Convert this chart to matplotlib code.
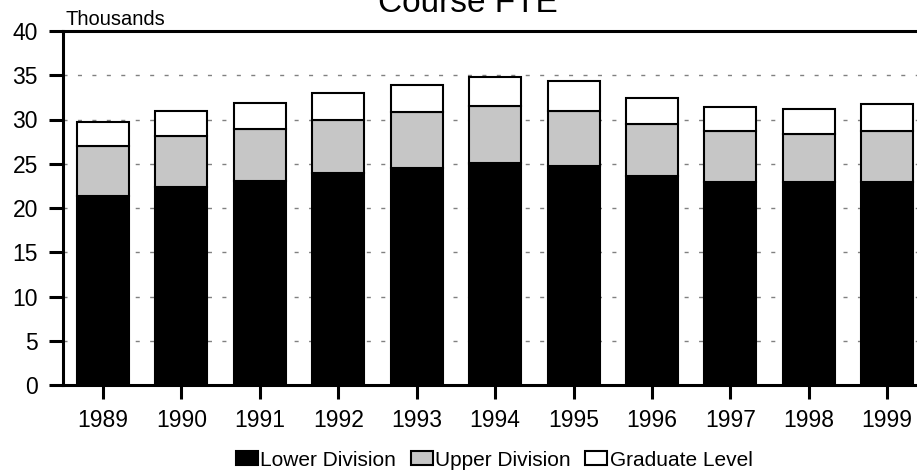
import numpy as np
import matplotlib.pyplot as plt

plt.rcParams['font.family'] = ['Liberation Sans', 'DejaVu Sans']

years = ['1989', '1990', '1991', '1992', '1993', '1994', '1995', '1996', '1997', '1998', '1999']
lower = [21.4, 22.4, 23.0, 23.9, 24.5, 25.1, 24.7, 23.6, 22.9, 22.9, 22.9]
upper = [5.6, 5.7, 5.9, 6.1, 6.3, 6.4, 6.3, 5.9, 5.8, 5.5, 5.8]
graduate = [2.75, 2.9, 3.0, 3.0, 3.1, 3.35, 3.3, 2.9, 2.75, 2.8, 3.0]
series_names = ['Lower Division', 'Upper Division', 'Graduate Level']
colors = ['#000000', '#c6c6c6', '#ffffff']
yticks = [0, 5, 10, 15, 20, 25, 30, 35, 40]

W, H = 917, 475
fig = plt.figure(figsize=(W / 100, H / 100), dpi=100)
ax = fig.add_axes([63 / W, (H - 385) / H, (W - 63) / W, 354 / H])

x = np.arange(len(years))
bottom = np.zeros(len(years))
for vals, name, c in zip([lower, upper, graduate], series_names, colors):
    ax.bar(x, vals, width=0.663, bottom=bottom, color=c, edgecolor='black',
           linewidth=1.5, label=name, zorder=3)
    bottom += np.array(vals)

# dashed grid lines behind the bars
for yv in yticks[1:-1]:
    ax.axhline(yv, color='#808080', linewidth=1.0, linestyle=(0, (2.9, 7.5)), zorder=1)

ax.set_xlim(-0.51, 10.38)
ax.set_ylim(0, 40)
ax.set_yticks(yticks)
ax.set_xticks(x)
ax.set_xticklabels(years)

for s in ['left', 'top', 'bottom']:
    ax.spines[s].set_linewidth(2.2)
ax.spines['right'].set_visible(False)

ax.tick_params(axis='both', direction='out', length=10, width=2.2, labelsize=16.5)
ax.tick_params(axis='y', pad=8)
ax.tick_params(axis='x', pad=7)

fig.text(66 / W, 1 - 25 / H, 'Thousands', fontsize=14.5, ha='left', va='baseline')
fig.text(468 / W, 1 - 12 / H, 'Course FTE', fontsize=24, ha='center', va='baseline')

fig.legend(loc='center', bbox_to_anchor=(494 / W, 1 - 460 / H), ncol=3, frameon=False,
           fontsize=15, handlelength=1.06, handleheight=0.62, handletextpad=0.1,
           columnspacing=0.72, borderpad=0)

fig.savefig('out.png', dpi=100)
